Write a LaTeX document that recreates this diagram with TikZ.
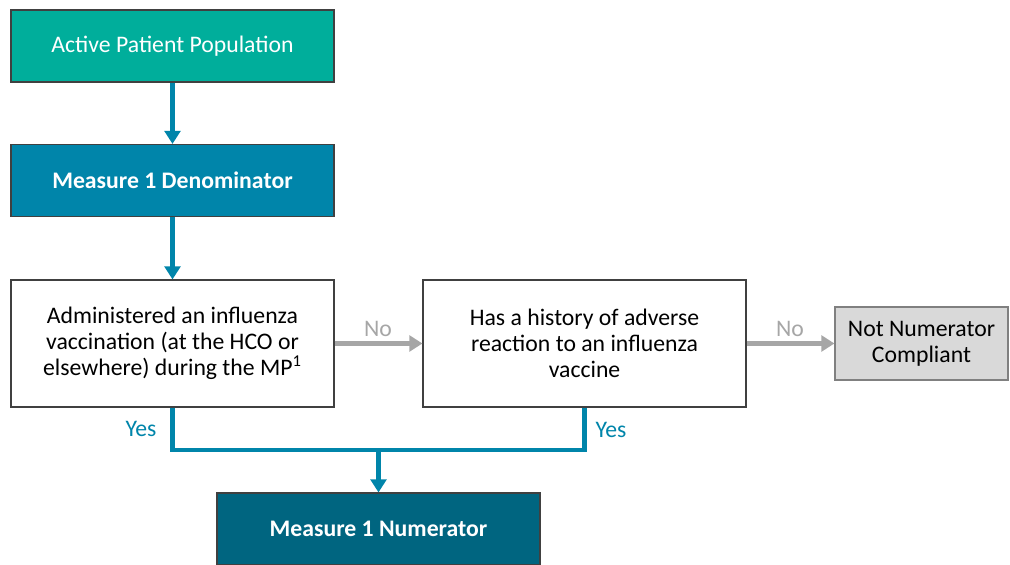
\documentclass[tikz,border=0pt]{standalone}
\usepackage{fontspec}
\setmainfont{Carlito}
\usetikzlibrary{arrows.meta}

\definecolor{popteal}{RGB}{0,174,155}
\definecolor{denomblue}{RGB}{0,133,170}
\definecolor{numblue}{RGB}{0,101,128}
\definecolor{notgray}{RGB}{217,217,217}
\definecolor{nogray}{RGB}{166,166,166}
\definecolor{edgegray}{RGB}{64,64,64}

\tikzset{
  box/.style={draw=edgegray, line width=0.6pt, minimum width=6.46cm, align=center,
    font=\fontsize{13.5}{14.8}\selectfont},
  stepbox/.style={box, minimum height=1.44cm, text=white},
  testbox/.style={box, fill=white, minimum height=2.54cm},
  flow/.style={denomblue, line width=2.3pt},
  flowarrow/.style={flow, -{Triangle[width=9pt,length=7.5pt]}},
  noarrow/.style={nogray, line width=2.3pt, -{Triangle[width=9pt,length=7.5pt]}},
  yeslabel/.style={text=denomblue, font=\fontsize{13.5}{14.8}\selectfont},
  nolabel/.style={text=nogray, font=\fontsize{13.5}{14.8}\selectfont}
}

\begin{document}
\begin{tikzpicture}
    \useasboundingbox (0,0) rectangle (20.2,11.3);

    \node[stepbox, fill=popteal] (pop) at (3.45, 10.38) {Active Patient Population};
    \node[stepbox, fill=denomblue, font=\fontsize{13.5}{14.8}\selectfont\bfseries] (denom) at (3.45, 7.69) {Measure 1 Denominator};

    \node[testbox] (admin) at (3.45, 4.43) {Administered an influenza\\vaccination (at the HCO or\\elsewhere) during the MP\textsuperscript{1}};
    \node[testbox] (hist) at (11.69, 4.43) {Has a history of adverse\\reaction to an influenza\\vaccine};
    \node[box, fill=notgray, draw=gray, minimum width=3.46cm, minimum height=1.46cm] (notnum) at (18.43, 4.43) {Not Numerator\\Compliant};

    \node[stepbox, fill=numblue, font=\fontsize{13.5}{14.8}\selectfont\bfseries] (num) at (7.57, 0.72) {Measure 1 Numerator};

    \draw[flowarrow] (pop) -- (denom);
    \draw[flowarrow] (denom) -- (admin);

    \draw[noarrow] (admin) -- (hist);
    \node[nolabel] (no1) at (7.56, 4.72) {No};
    \draw[noarrow] (hist) -- (notnum);
    \node[nolabel] (no2) at (15.8, 4.72) {No};

    \coordinate (join) at (7.57, 2.3);
    \draw[flow] (admin.south) |- (join) -| (hist.south);
    \draw[flowarrow] (join) -- (num.north);
    \node[yeslabel] (yes1) at (2.82, 2.72) {Yes};
    \node[yeslabel] (yes2) at (12.22, 2.70) {Yes};
\end{tikzpicture}
\end{document}
